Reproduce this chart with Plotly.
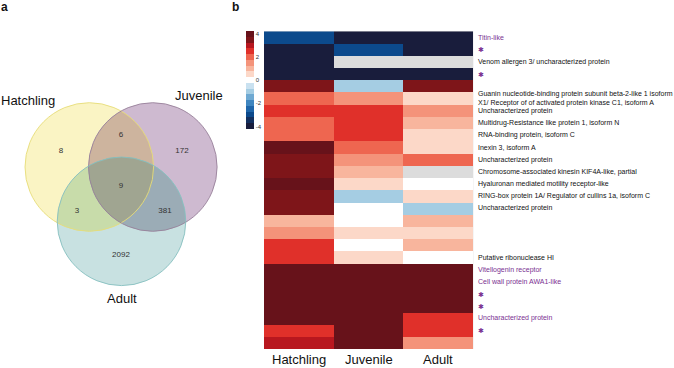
import math
import plotly.graph_objects as go

# ---------------- data ----------------
stages = ["Hatchling", "Juvenile", "Adult"]

hatchling = [-3.0, -4.0, -4.0, -4.0, 3.5, 2.0, 2.5, 2.0, 2.0, 4.0, 3.5, 3.5, 4.0,
             3.5, 3.5, 1.0, 1.5, 2.5, 2.5, 4.0, 4.0, 4.0, 4.0, 4.0, 2.5, 3.0]
juvenile = [-4.0, -3.0, None, -4.0, -1.0, 1.5, 2.5, 2.5, 2.5, 2.0, 1.5, 1.0, 0.5,
            -1.0, 0.0, 0.0, 0.5, 0.0, 0.5, 4.0, 4.0, 4.0, 4.0, 4.0, 4.0, 4.0]
adult = [-4.0, -4.0, None, -4.0, 3.5, 0.5, 1.5, 1.0, 0.5, 0.5, 2.0, None, 0.0,
         0.5, -1.0, 1.0, 0.5, 1.0, 0.0, 4.0, 4.0, 4.0, 4.0, 2.5, 2.5, 1.5]

row_labels = [
    "Titin-like", "✱", "Venom allergen 3/ uncharacterized protein", "✱", "",
    "Guanin nucleotide-binding protein subunit beta-2-like 1 isoform<br>X1/ Receptor of of activated protein kinase C1, isoform A",
    "Uncharacterized protein", "Multidrug-Resistance like protein 1, isoform N",
    "RNA-binding protein, isoform C", "Inexin 3, isoform A", "Uncharacterized protein",
    "Chromosome-associated kinesin KIF4A-like, partial",
    "Hyaluronan mediated motility receptor-like",
    "RING-box protein 1A/ Regulator of cullins 1a, isoform C",
    "Uncharacterized protein", "", "", "", "Putative ribonuclease HI",
    "Vitellogenin receptor", "Cell wall protein AWA1-like", "✱", "✱",
    "Uncharacterized protein", "✱", "",
]
row_highlight = [1, 1, 0, 1, 0, 0, 0, 0, 0, 0, 0, 0, 0, 0, 0, 0, 0, 0, 0,
                 1, 1, 1, 1, 1, 1, 0]

colorbar_ticks = [-4, -2, 0, 2, 4]

venn_sets = ["Hatchling", "Juvenile", "Adult"]
venn_regions = ["H", "HJ", "J", "HJA", "HA", "JA", "A"]
venn_counts = [8, 6, 172, 9, 3, 381, 2092]

# ---------------- style / layout ----------------
W, H = 674, 368
FONT = "Liberation Sans"
PURPLE = "#7a3192"


def px(x):
    return x / W


def py(y):
    return 1 - y / H


# stepped colour scale (bins of 0.5)
zmin, zmax = -4.25, 4.25
bin_colors = ["#191d3c", "#13305f", "#0c4a8c", "#1f66aa", "#3f86c0", "#6fa9d2",
              "#a5cde3", "#c9e1f0", "#ffffff", "#fcd8c8", "#f8b59d", "#f4937a",
              "#ee6650", "#e0302a", "#b8171f", "#7e1519", "#67121a"]
colorscale = []
for i, c in enumerate(bin_colors):
    a = (i * 0.5) / (zmax - zmin)
    b = ((i + 1) * 0.5) / (zmax - zmin)
    colorscale.append([a, c])
    colorscale.append([min(b, 1.0), c])

# heatmap pixel box
hx0, hx1, hy0, hy1 = 264.0, 473.3, 31.3, 349.0

z = [[hatchling[i], juvenile[i], adult[i]] for i in range(len(hatchling))]
nrows = len(z)

fig = go.Figure()

fig.add_trace(go.Heatmap(
    z=z, x=stages, y=list(range(nrows)),
    colorscale=colorscale, zmin=zmin, zmax=zmax,
    hoverongaps=False,
    xaxis="x", yaxis="y",
    colorbar=dict(
        x=px(245.7), xanchor="left", xpad=0,
        y=py(hy0), yanchor="top", ypad=0,
        thickness=8, thicknessmode="pixels",
        len=98, lenmode="pixels",
        outlinewidth=0, ticks="",
        tickvals=colorbar_ticks, ticktext=[str(t) for t in colorbar_ticks],
        tickfont=dict(size=6, color="#333", family=FONT),
    ),
))

annotations = []
for i, (lab, hl) in enumerate(zip(row_labels, row_highlight)):
    if not lab:
        continue
    annotations.append(dict(
        x=px(476.0), xref="paper", y=i, yref="y",
        xanchor="left", yanchor="middle", showarrow=False,
        text=lab, align="left",
        font=dict(size=7, family=FONT,
                  color=PURPLE if hl else "#111"),
    ))

for s in stages:
    annotations.append(dict(
        x=s, xref="x", y=py(359), yref="paper", text=s, showarrow=False,
        xanchor="center", yanchor="middle",
        font=dict(size=13, family=FONT, color="#111"),
    ))

# ---------------- Venn ----------------
centers = {"H": (89.3, 167.0), "J": (152.8, 167.0), "A": (121.5, 221.3)}
R = 64.3
fills = {"H": "#faf4c4", "J": "#cebad0", "A": "#c8e1e1",
         "HJ": "#cdb49e", "HA": "#c8dcaa", "JA": "#9bacb6", "HJA": "#a0a591"}
lines = {"H": "#e6dc78", "J": "#97809a", "A": "#86bfbf"}
region_pos = {"H": (61, 151), "HJ": (121, 135), "J": (182, 151), "HJA": (121, 186),
              "HA": (77, 211), "JA": (165, 211), "A": (121, 255)}
set_label_pos = {"Hatchling": (28, 100.5), "Juvenile": (198.5, 95.5), "Adult": (121.7, 298.5)}


def circle_poly(c, r, n=240):
    return [(c[0] + r * math.cos(2 * math.pi * k / n), c[1] + r * math.sin(2 * math.pi * k / n))
            for k in range(n)]


def clip_convex(subject, clip):
    """Sutherland-Hodgman: clip subject polygon by convex CCW clip polygon."""
    out = subject
    m = len(clip)
    for j in range(m):
        a, b = clip[j - 1], clip[j]

        def side(p):
            return (b[0] - a[0]) * (p[1] - a[1]) - (b[1] - a[1]) * (p[0] - a[0])

        inp = out
        out = []
        if not inp:
            break
        for k in range(len(inp)):
            p, q = inp[k - 1], inp[k]
            sp, sq = side(p), side(q)
            if sq >= 0:
                if sp < 0:
                    t = sp / (sp - sq)
                    out.append((p[0] + t * (q[0] - p[0]), p[1] + t * (q[1] - p[1])))
                out.append(q)
            elif sp >= 0:
                t = sp / (sp - sq)
                out.append((p[0] + t * (q[0] - p[0]), p[1] + t * (q[1] - p[1])))
    return out


def path_of(poly):
    return "M " + " L ".join(f"{x:.2f},{y:.2f}" for x, y in poly) + " Z"


shapes = [dict(type="rect", xref="x domain", yref="y domain", x0=0, x1=1, y0=0, y1=1,
               fillcolor="#dcdcdc", line=dict(width=0), layer="below")]
for key in ["H", "J", "A"]:
    cx, cy = centers[key]
    shapes.append(dict(type="circle", xref="x2", yref="y2",
                       x0=cx - R, x1=cx + R, y0=cy - R, y1=cy + R,
                       fillcolor=fills[key], line=dict(width=0), layer="below"))
polys = {k: circle_poly(centers[k], R) for k in "HJA"}
inter = {
    "HJ": clip_convex(polys["H"], polys["J"]),
    "HA": clip_convex(polys["H"], polys["A"]),
    "JA": clip_convex(polys["J"], polys["A"]),
}
inter["HJA"] = clip_convex(inter["HJ"], polys["A"])
for key in ["HJ", "HA", "JA", "HJA"]:
    shapes.append(dict(type="path", xref="x2", yref="y2", path=path_of(inter[key]),
                       fillcolor=fills[key], line=dict(width=0), layer="below"))
for key in ["H", "J", "A"]:
    cx, cy = centers[key]
    shapes.append(dict(type="circle", xref="x2", yref="y2",
                       x0=cx - R, x1=cx + R, y0=cy - R, y1=cy + R,
                       fillcolor="rgba(0,0,0,0)", line=dict(width=0.9, color=lines[key])))

fig.add_trace(go.Scatter(
    x=[region_pos[r][0] for r in venn_regions],
    y=[region_pos[r][1] for r in venn_regions],
    text=[str(v) for v in venn_counts],
    mode="text", textposition="middle center",
    textfont=dict(size=8, color="#333", family=FONT),
    xaxis="x2", yaxis="y2", hoverinfo="skip", showlegend=False,
))

for name in venn_sets:
    lx, ly = set_label_pos[name]
    annotations.append(dict(x=lx, y=ly, xref="x2", yref="y2", text=name,
                            showarrow=False, xanchor="center", yanchor="middle",
                            font=dict(size=13, family=FONT, color="#111")))

annotations.append(dict(x=px(4), y=py(7), xref="paper", yref="paper", text="<b>a</b>",
                        showarrow=False, xanchor="center", yanchor="middle",
                        font=dict(size=12, family=FONT, color="#111")))
annotations.append(dict(x=px(235), y=py(7), xref="paper", yref="paper", text="<b>b</b>",
                        showarrow=False, xanchor="center", yanchor="middle",
                        font=dict(size=12, family=FONT, color="#111")))

fig.update_layout(
    width=W, height=H,
    margin=dict(l=0, r=0, t=0, b=0),
    paper_bgcolor="white", plot_bgcolor="rgba(0,0,0,0)",
    showlegend=False,
    font=dict(family=FONT),
    xaxis=dict(domain=[px(hx0), px(hx1)], showgrid=False, zeroline=False,
               ticks="", showline=False, showticklabels=False, anchor="y"),
    yaxis=dict(domain=[py(hy1), py(hy0)], range=[nrows - 0.5, -0.5],
               showticklabels=False, showgrid=False, zeroline=False, ticks="",
               anchor="x"),
    xaxis2=dict(domain=[0, px(240)], range=[0, 240], visible=False, anchor="y2"),
    yaxis2=dict(domain=[0, 1], range=[H, 0], visible=False, anchor="x2"),
    shapes=shapes,
    annotations=annotations,
)

fig.write_html("out.html", config={"displayModeBar": False},
               post_script="document.body.style.margin='0';")
